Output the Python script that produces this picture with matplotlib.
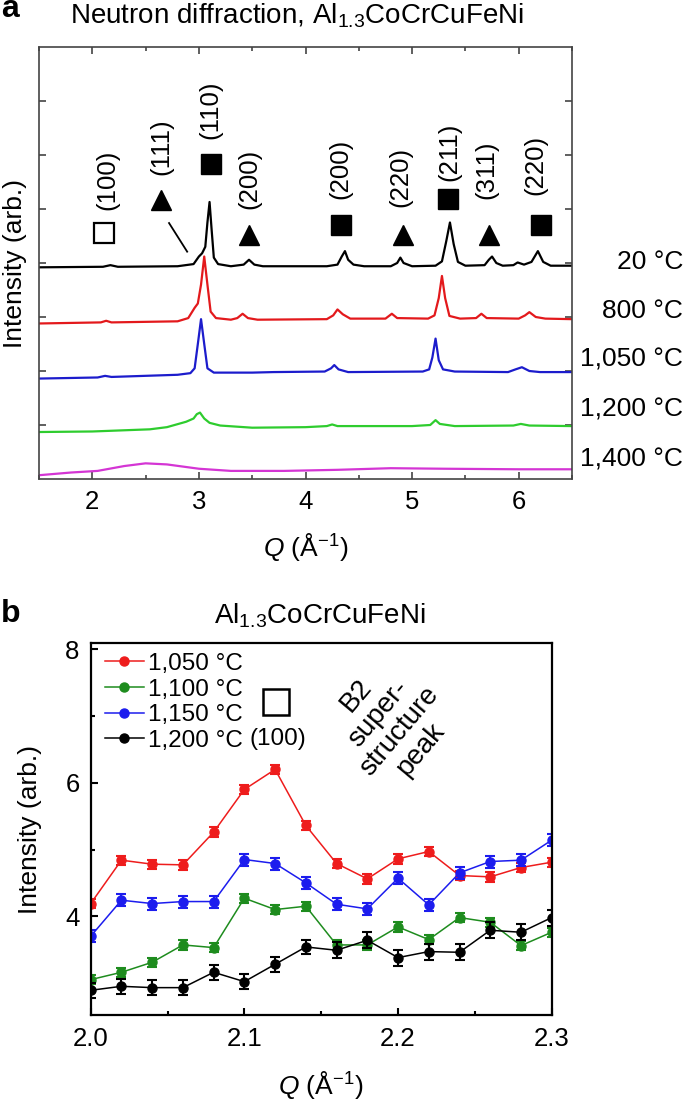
import numpy as np
import matplotlib.pyplot as plt
from matplotlib.ticker import MultipleLocator

plt.rcParams['font.family'] = 'Liberation Sans'
plt.rcParams['mathtext.fontset'] = 'custom'
plt.rcParams['mathtext.rm'] = 'Liberation Sans'
plt.rcParams['mathtext.it'] = 'Liberation Sans:italic'

# ---- panel a: neutron diffraction patterns (offset, arb. units) ----
q_20 = [1.5, 2.1, 2.17, 2.24, 2.8, 2.95, 3.0, 3.03, 3.06, 3.08, 3.10, 3.12, 3.14, 3.18, 3.3,
        3.42, 3.47, 3.52, 3.6, 4.2, 4.3, 4.34, 4.37, 4.40, 4.45, 4.55, 4.8, 4.86, 4.89, 4.92,
        5.0, 5.22, 5.28, 5.32, 5.355, 5.39, 5.43, 5.5, 5.68, 5.72, 5.75, 5.79, 5.85, 5.95,
        5.99, 6.05, 6.12, 6.18, 6.23, 6.3, 6.5]
i_20 = [3.92, 3.93, 3.96, 3.93, 3.94, 3.98, 4.12, 4.18, 4.3, 4.75, 5.13, 4.6, 4.1, 3.98, 3.94,
        3.97, 4.06, 3.97, 3.94, 3.94, 3.97, 4.12, 4.22, 4.06, 3.97, 3.94, 3.94, 4.0, 4.1, 4.0,
        3.94, 3.95, 4.03, 4.4, 4.75, 4.35, 4.02, 3.95, 3.96, 4.06, 4.12, 4.0, 3.95, 3.96,
        4.01, 3.97, 4.02, 4.22, 4.02, 3.95, 3.95]

q_800 = [1.5, 2.08, 2.13, 2.18, 2.8, 2.9, 2.96, 2.99, 3.02, 3.05, 3.08, 3.11, 3.16, 3.3, 3.36,
         3.41, 3.46, 3.55, 4.2, 4.26, 4.3, 4.35, 4.42, 4.75, 4.81, 4.86, 5.15, 5.21, 5.25, 5.28,
         5.31, 5.35, 5.45, 5.6, 5.65, 5.7, 6.0, 6.06, 6.1, 6.16, 6.25, 6.5]
i_800 = [2.88, 2.9, 2.93, 2.9, 2.92, 2.98, 3.17, 3.25, 3.6, 4.12, 3.6, 3.1, 2.98, 2.95, 2.98,
         3.06, 2.98, 2.95, 2.96, 3.03, 3.14, 3.05, 2.97, 2.97, 3.06, 2.98, 2.97, 3.03, 3.35, 3.76,
         3.35, 3.02, 2.97, 2.98, 3.06, 2.98, 2.97, 3.03, 3.09, 3.0, 2.97, 2.96]

q_1050 = [1.5, 2.05, 2.12, 2.18, 2.8, 2.92, 2.96, 2.99, 3.02, 3.05, 3.08, 3.14, 3.5, 3.7, 4.18,
          4.24, 4.27, 4.31, 4.4, 5.1, 5.16, 5.19, 5.22, 5.25, 5.29, 5.4, 5.9, 5.97, 6.03, 6.1,
          6.2, 6.5]
i_1050 = [1.86, 1.88, 1.91, 1.89, 1.93, 1.96, 2.05, 2.5, 2.96, 2.5, 2.05, 1.97, 1.97, 1.98, 1.99,
          2.05, 2.11, 2.03, 1.98, 1.99, 2.03, 2.25, 2.6, 2.2, 2.03, 1.99, 1.98, 2.03, 2.07, 2.0,
          1.98, 1.98]

q_1200 = [1.5, 2.0, 2.54, 2.7, 2.88, 2.95, 2.98, 3.01, 3.05, 3.1, 3.2, 3.5, 4.0, 4.2, 4.25, 4.3,
          5.0, 5.17, 5.22, 5.26, 5.4, 5.95, 6.02, 6.1, 6.5]
i_1200 = [0.87, 0.88, 0.92, 0.96, 1.06, 1.12, 1.2, 1.23, 1.12, 1.04, 0.99, 0.95, 0.96, 0.98, 1.01,
          0.98, 0.98, 1.0, 1.09, 1.02, 0.98, 0.99, 1.02, 0.99, 0.98]

q_1400 = [1.5, 1.8, 2.05, 2.3, 2.5, 2.7, 3.0, 3.3, 3.8, 4.3, 4.8, 5.3, 6.0, 6.5]
i_1400 = [0.07, 0.12, 0.15, 0.24, 0.29, 0.27, 0.19, 0.15, 0.15, 0.17, 0.2, 0.19, 0.18, 0.18]

temp_labels_a = ['20 °C', '800 °C', '1,050 °C', '1,200 °C', '1,400 °C']

# peak markers: B2 superstructure (open square), BCC (filled square), FCC (triangle)
open_sq_q, open_sq_y = [2.11], [4.55]
bcc_q = [3.11, 4.33, 5.34, 6.21]
bcc_y = [5.83, 4.70, 5.18, 4.70]
fcc_q = [2.64, 3.47, 4.91, 5.72]
fcc_y = [5.17, 4.52, 4.52, 4.52]
hkl_text = ['(100)', '(111)', '(110)', '(200)', '(200)', '(220)', '(211)', '(311)', '(220)']
hkl_q = [2.14, 2.65, 3.11, 3.47, 4.33, 4.89, 5.35, 5.70, 6.16]
hkl_y = [5.54, 6.15, 6.83, 5.55, 5.75, 5.60, 6.06, 5.72, 5.81]

# ---- panel b: B2 (100) superstructure region ----
q_b = [2.00, 2.02, 2.04, 2.06, 2.08, 2.10, 2.12, 2.14, 2.16, 2.18, 2.20, 2.22, 2.24, 2.26, 2.28, 2.30]
b_1050 = [4.19, 4.84, 4.78, 4.77, 5.26, 5.90, 6.20, 5.36, 4.79, 4.56, 4.86, 4.97, 4.61, 4.59, 4.73, 4.81]
b_1100 = [3.05, 3.16, 3.31, 3.57, 3.53, 4.27, 4.10, 4.15, 3.57, 3.57, 3.84, 3.65, 3.98, 3.91, 3.56, 3.76]
b_1150 = [3.70, 4.24, 4.19, 4.22, 4.22, 4.85, 4.79, 4.50, 4.18, 4.11, 4.57, 4.17, 4.65, 4.82, 4.84, 5.14]
b_1200 = [2.89, 2.95, 2.93, 2.93, 3.16, 3.02, 3.28, 3.54, 3.49, 3.64, 3.38, 3.47, 3.46, 3.79, 3.76, 3.98]
e_1050 = [0.07, 0.07, 0.07, 0.07, 0.07, 0.07, 0.07, 0.07, 0.07, 0.07, 0.07, 0.07, 0.07, 0.07, 0.07, 0.07]
e_1100 = [0.07, 0.07, 0.07, 0.07, 0.07, 0.07, 0.07, 0.07, 0.07, 0.07, 0.07, 0.07, 0.07, 0.07, 0.07, 0.07]
e_1150 = [0.09, 0.09, 0.09, 0.09, 0.09, 0.09, 0.09, 0.09, 0.09, 0.09, 0.09, 0.09, 0.09, 0.09, 0.09, 0.09]
e_1200 = [0.11, 0.11, 0.11, 0.11, 0.11, 0.11, 0.11, 0.11, 0.12, 0.12, 0.12, 0.12, 0.12, 0.12, 0.12, 0.12]
temp_labels_b = ['1,050 °C', '1,100 °C', '1,150 °C', '1,200 °C']

W, H = 685, 1106
fig = plt.figure(figsize=(W / 100, H / 100), dpi=100)

# ================= panel a =================
axa = fig.add_axes([39 / W, 1 - 479 / H, 533 / W, 432 / H])
cols_a = ['black', '#e3191c', '#1c1ccc', '#2ecc2e', '#d435d4']
for q, i, c in zip([q_20, q_800, q_1050, q_1200, q_1400],
                   [i_20, i_800, i_1050, i_1200, i_1400], cols_a):
    axa.plot(q, i, color=c, lw=1.6)

axa.plot(open_sq_q, open_sq_y, 's', ms=15, mfc='white', mec='black', mew=1.6)
axa.plot(bcc_q, bcc_y, 's', ms=14.5, color='black')
axa.plot(fcc_q, fcc_y, '^', ms=14.5, color='black')
axa.plot([2.72, 2.89], [4.74, 4.21], color='black', lw=1.3)
for t, x, y in zip(hkl_text, hkl_q, hkl_y):
    axa.text(x, y, t, rotation=90, ha='center', va='center', fontsize=18.5)

axa.set_xlim(1.5, 6.5)
axa.set_ylim(0, 8)
axa.set_xticks([2, 3, 4, 5, 6])
axa.xaxis.set_minor_locator(MultipleLocator(0.5))
axa.set_yticks([1, 2, 3, 4, 5, 6, 7])
axa.tick_params(which='both', direction='in', top=True, right=True, labelleft=False,
                labelsize=18.5, pad=8, color='#444444')
axa.tick_params(which='major', length=5, width=1.2)
axa.tick_params(which='minor', length=3, width=1.2)
for s in axa.spines.values():
    s.set_color('#444444')
    s.set_linewidth(1.2)
axa.set_xlabel('$Q$ (Å$^{\\mathregular{-1}}$)', fontsize=19, va='center')
axa.xaxis.set_label_coords(0.5, -(547 - 479) / 432)
axa.set_ylabel('Intensity (arb.)', fontsize=19, va='center')
axa.yaxis.set_label_coords((15 - 39) / 533, 0.5)

for t, y in zip(temp_labels_a, [262, 311, 360, 410, 460]):
    fig.text(683 / W, 1 - y / H, t, ha='right', va='center', fontsize=19)

fig.text(297 / W, 1 - 24 / H, 'Neutron diffraction, Al$_\\mathregular{1.3}$CoCrCuFeNi',
         ha='center', va='baseline', fontsize=20)
fig.text(1 / W, 1 - 17 / H, 'a', ha='left', va='baseline', fontsize=23, fontweight='bold')

# ================= panel b =================
axb = fig.add_axes([90.7 / W, 1 - 1015 / H, 461 / W, 371.7 / H])
cols_b = ['#ee1c1c', '#1e8c1e', '#1c1cee', 'black']
for v, e, c, lab in zip([b_1050, b_1100, b_1150, b_1200], [e_1050, e_1100, e_1150, e_1200],
                        cols_b, temp_labels_b):
    axb.errorbar(q_b, v, yerr=e, fmt='none', ecolor=c, elinewidth=1.5, capsize=3.3, capthick=1.5)
    axb.plot(q_b, v, '-o', color=c, lw=1.1, ms=6.5, label=lab)

axb.plot([2.1206], [7.21], 's', ms=19, mfc='white', mec='black', mew=1.8)
axb.text(2.1217, 6.66, '(100)', ha='center', va='center', fontsize=17.5)
axb.text(2.194, 6.9, 'B2\nsuper-\nstructure\npeak', rotation=50, ha='center', va='center',
         multialignment='center', fontsize=20, linespacing=1.1)

axb.set_xlim(2.0, 2.3)
axb.set_ylim(2.52, 8.09)
axb.set_xticks([2.0, 2.1, 2.2, 2.3])
axb.set_xticklabels(['2.0', '2.1', '2.2', '2.3'])
axb.xaxis.set_minor_locator(MultipleLocator(0.05))
axb.set_yticks([4, 6, 8])
axb.yaxis.set_minor_locator(MultipleLocator(1))
axb.tick_params(which='both', direction='in', labelsize=18.5, width=1.5)
axb.tick_params(axis='x', pad=9)
axb.tick_params(axis='y', pad=8)
axb.tick_params(which='major', length=5)
axb.tick_params(which='minor', length=3)
for s in axb.spines.values():
    s.set_linewidth(1.6)
axb.set_xlabel('$Q$ (Å$^{\\mathregular{-1}}$)', fontsize=19, va='center')
axb.xaxis.set_label_coords(0.5, -(1085 - 1015) / 371.7)
axb.set_ylabel('Intensity (arb.)', fontsize=19, va='center')
axb.yaxis.set_label_coords((30 - 90.7) / 461, 0.5)

axb.legend(loc='upper left', bbox_to_anchor=(0.031, 0.974), frameon=False, fontsize=17.5,
           labelspacing=0.15, handlelength=1.6, handletextpad=0.15, borderpad=0,
           borderaxespad=0)

fig.text(320 / W, 1 - 623 / H, 'Al$_\\mathregular{1.3}$CoCrCuFeNi', ha='center',
         va='baseline', fontsize=20)
fig.text(1 / W, 1 - 622 / H, 'b', ha='left', va='baseline', fontsize=23, fontweight='bold')

fig.savefig('out.png', dpi=100)
